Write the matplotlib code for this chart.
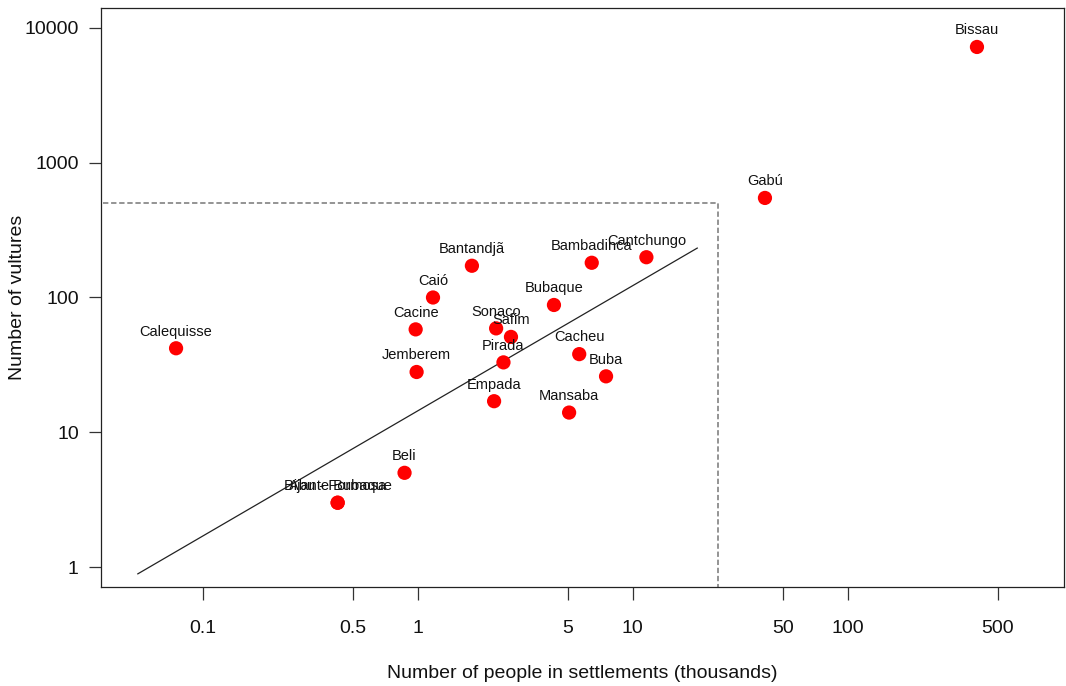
import matplotlib
matplotlib.use("Agg")
import matplotlib.pyplot as plt
import numpy as np

plt.rcParams['font.family'] = ['Liberation Sans', 'DejaVu Sans']

# Settlement data: population (thousands) and vulture counts
settlements = ["Bissau", "Gabú", "Cantchungo", "Bambadinca", "Bantandjã", "Caió",
               "Bubaque", "Cacine", "Sonaco", "Safim", "Pirada", "Cacheu", "Buba",
               "Jemberem", "Empada", "Mansaba", "Beli", "Bijante Bubaque",
               "Abu - Formosa", "Calequisse"]
people_k = [400, 41.3, 11.6, 6.46, 1.79, 1.18,
            4.31, 0.98, 2.32, 2.72, 2.51, 5.65, 7.53,
            0.99, 2.27, 5.07, 0.87, 0.425,
            0.425, 0.0753]
vultures = [7230, 548, 199, 181, 172, 100,
            88, 58, 59, 51, 33, 38, 26,
            28, 17, 14, 5, 3,
            3, 42]

# Log-log regression line
fit_intercept = 1.158
fit_slope = 0.929
fit_x = [0.05, 20]

# Reference box (people < 25k, vultures < 500)
box_x = [0.0345, 25]
box_y = [0.5, 500]

x_ticks = [0.1, 0.5, 1, 5, 10, 50, 100, 500]
x_ticklabels = ["0.1", "0.5", "1", "5", "10", "50", "100", "500"]
y_ticks = [1, 10, 100, 1000, 10000]
y_ticklabels = ["1", "10", "100", "1000", "10000"]

fig = plt.figure(figsize=(10.66, 6.86), dpi=100)
ax = fig.add_axes([101/1066, 1 - 587/686, (1064 - 101)/1066, (587 - 8)/686])
ax.set_xscale('log')
ax.set_yscale('log')
ax.set_xlim(0.0337, 1016)
ax.set_ylim(0.7107, 14069)

# dashed box
bx = [box_x[0], box_x[1], box_x[1], box_x[0]]
by = [box_y[1], box_y[1], box_y[0], box_y[0]]
ax.plot(bx[:3], by[:3], ls=(0, (3.5, 1.8)), color='#777777', lw=1.1, zorder=1)

# regression line
fx = np.array(fit_x)
fy = 10 ** (fit_intercept + fit_slope * np.log10(fx))
ax.plot(fx, fy, color='#222222', lw=0.9, zorder=2)

ax.scatter(people_k, vultures, s=105, color='#ff0000', edgecolors='none', zorder=3)
for name, x, y in zip(settlements, people_k, vultures):
    ax.annotate(name, (x, y), xytext=(0, 12), textcoords='offset points',
                ha='center', va='center', fontsize=10.5, color='#111111', zorder=4)

ax.set_xticks(x_ticks)
ax.set_xticklabels(x_ticklabels)
ax.set_yticks(y_ticks)
ax.set_yticklabels(y_ticklabels)
ax.minorticks_off()
ax.tick_params(axis='both', direction='out', length=9, width=0.9, labelsize=14,
               color='#333333', labelcolor='#111111')
ax.tick_params(axis='x', pad=14.5)
ax.tick_params(axis='y', pad=7)
for sp in ax.spines.values():
    sp.set_linewidth(0.9)
    sp.set_color('#222222')

ax.set_xlabel("Number of people in settlements (thousands)", fontsize=14,
              color='#111111', va='center')
ax.set_ylabel("Number of vultures", fontsize=14, color='#111111', va='center')
ax.xaxis.set_label_coords(0.5, (587 - 673) / 579)
ax.yaxis.set_label_coords((18 - 101) / 963, 0.5)

fig.savefig("out.png", dpi=100)
